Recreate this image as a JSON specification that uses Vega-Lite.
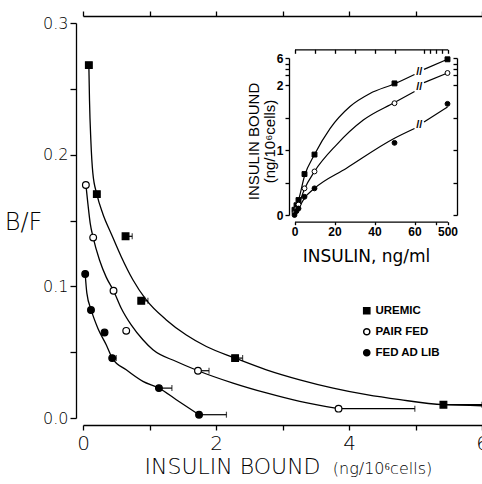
{
  "$schema": "https://vega.github.io/schema/vega-lite/v6.json",
  "width": 399,
  "height": 395,
  "autosize": {"type": "none"},
  "padding": {"left": 83, "top": 23, "right": 0, "bottom": 66},
  "background": "white",
  "config": {
    "view": {"stroke": null},
    "axis": {"grid": false, "domainColor": "black", "tickColor": "black", "labelColor": "black", "titleColor": "black", "domainWidth": 1.3, "tickWidth": 1.3, "labelFont": "DejaVu Sans", "titleFont": "DejaVu Sans"},
    "legend": {"labelFont": "Liberation Sans"}
  },
  "datasets": {
    "pts": [
      {"group": "UREMIC", "x": 0.088, "y": 0.268, "xerr": null},
      {"group": "UREMIC", "x": 0.208, "y": 0.170, "xerr": null},
      {"group": "UREMIC", "x": 0.64, "y": 0.138, "xerr": 0.74},
      {"group": "UREMIC", "x": 0.876, "y": 0.089, "xerr": 0.976},
      {"group": "UREMIC", "x": 2.287, "y": 0.0455, "xerr": 2.40},
      {"group": "UREMIC", "x": 5.42, "y": 0.0101, "xerr": 6.0},
      {"group": "PAIR FED", "x": 0.043, "y": 0.177, "xerr": null},
      {"group": "PAIR FED", "x": 0.153, "y": 0.137, "xerr": null},
      {"group": "PAIR FED", "x": 0.459, "y": 0.0967, "xerr": null},
      {"group": "PAIR FED", "x": 0.650, "y": 0.0662, "xerr": null},
      {"group": "PAIR FED", "x": 1.729, "y": 0.0359, "xerr": 1.895},
      {"group": "PAIR FED", "x": 3.843, "y": 0.0071, "xerr": 4.99},
      {"group": "FED AD LIB", "x": 0.033, "y": 0.1094, "xerr": null},
      {"group": "FED AD LIB", "x": 0.12, "y": 0.082, "xerr": null},
      {"group": "FED AD LIB", "x": 0.324, "y": 0.0649, "xerr": null},
      {"group": "FED AD LIB", "x": 0.439, "y": 0.0455, "xerr": 0.50},
      {"group": "FED AD LIB", "x": 1.142, "y": 0.0227, "xerr": 1.337},
      {"group": "FED AD LIB", "x": 1.745, "y": 0.0025, "xerr": 2.157}
    ],
    "curves": [
      {"group": "UREMIC", "x": 0.088, "y": 0.268},
      {"group": "UREMIC", "x": 0.098, "y": 0.241},
      {"group": "UREMIC", "x": 0.118, "y": 0.211},
      {"group": "UREMIC", "x": 0.148, "y": 0.186},
      {"group": "UREMIC", "x": 0.208, "y": 0.170},
      {"group": "UREMIC", "x": 0.299, "y": 0.155},
      {"group": "UREMIC", "x": 0.424, "y": 0.140},
      {"group": "UREMIC", "x": 0.575, "y": 0.1225},
      {"group": "UREMIC", "x": 0.750, "y": 0.105},
      {"group": "UREMIC", "x": 0.951, "y": 0.0897},
      {"group": "UREMIC", "x": 1.253, "y": 0.0745},
      {"group": "UREMIC", "x": 1.554, "y": 0.063},
      {"group": "UREMIC", "x": 1.855, "y": 0.0543},
      {"group": "UREMIC", "x": 2.287, "y": 0.0455},
      {"group": "UREMIC", "x": 2.758, "y": 0.0366},
      {"group": "UREMIC", "x": 3.26, "y": 0.029},
      {"group": "UREMIC", "x": 3.762, "y": 0.0227},
      {"group": "UREMIC", "x": 4.264, "y": 0.0177},
      {"group": "UREMIC", "x": 4.767, "y": 0.0139},
      {"group": "UREMIC", "x": 5.42, "y": 0.0101},
      {"group": "UREMIC", "x": 6.0, "y": 0.0093},
      {"group": "PAIR FED", "x": 0.043, "y": 0.1774},
      {"group": "PAIR FED", "x": 0.073, "y": 0.163},
      {"group": "PAIR FED", "x": 0.108, "y": 0.148},
      {"group": "PAIR FED", "x": 0.153, "y": 0.137},
      {"group": "PAIR FED", "x": 0.248, "y": 0.120},
      {"group": "PAIR FED", "x": 0.349, "y": 0.107},
      {"group": "PAIR FED", "x": 0.459, "y": 0.0967},
      {"group": "PAIR FED", "x": 0.575, "y": 0.0834},
      {"group": "PAIR FED", "x": 0.725, "y": 0.0707},
      {"group": "PAIR FED", "x": 0.901, "y": 0.0594},
      {"group": "PAIR FED", "x": 1.052, "y": 0.0518},
      {"group": "PAIR FED", "x": 1.403, "y": 0.0429},
      {"group": "PAIR FED", "x": 1.729, "y": 0.0359},
      {"group": "PAIR FED", "x": 2.256, "y": 0.0265},
      {"group": "PAIR FED", "x": 2.758, "y": 0.019},
      {"group": "PAIR FED", "x": 3.26, "y": 0.0126},
      {"group": "PAIR FED", "x": 3.843, "y": 0.0071},
      {"group": "FED AD LIB", "x": 0.033, "y": 0.1094},
      {"group": "FED AD LIB", "x": 0.058, "y": 0.0948},
      {"group": "FED AD LIB", "x": 0.123, "y": 0.0821},
      {"group": "FED AD LIB", "x": 0.223, "y": 0.0682},
      {"group": "FED AD LIB", "x": 0.349, "y": 0.0556},
      {"group": "FED AD LIB", "x": 0.439, "y": 0.0455},
      {"group": "FED AD LIB", "x": 0.650, "y": 0.0366},
      {"group": "FED AD LIB", "x": 0.901, "y": 0.0278},
      {"group": "FED AD LIB", "x": 1.142, "y": 0.0227},
      {"group": "FED AD LIB", "x": 1.403, "y": 0.0139},
      {"group": "FED AD LIB", "x": 1.745, "y": 0.0025}
    ],
    "inpts": [
      {"group": "UREMIC", "conc": 0, "bound": 0.08},
      {"group": "UREMIC", "conc": 1, "bound": 0.15},
      {"group": "UREMIC", "conc": 2, "bound": 0.23},
      {"group": "UREMIC", "conc": 5, "bound": 0.63},
      {"group": "UREMIC", "conc": 10, "bound": 0.93},
      {"group": "UREMIC", "conc": 50, "bound": 2.08},
      {"group": "UREMIC", "conc": 500, "bound": 5.77},
      {"group": "PAIR FED", "conc": 0, "bound": 0.03},
      {"group": "PAIR FED", "conc": 1, "bound": 0.09},
      {"group": "PAIR FED", "conc": 2, "bound": 0.16},
      {"group": "PAIR FED", "conc": 5, "bound": 0.41},
      {"group": "PAIR FED", "conc": 10, "bound": 0.67},
      {"group": "PAIR FED", "conc": 50, "bound": 1.72},
      {"group": "PAIR FED", "conc": 500, "bound": 3.36},
      {"group": "FED AD LIB", "conc": 0, "bound": 0.0},
      {"group": "FED AD LIB", "conc": 1, "bound": 0.06},
      {"group": "FED AD LIB", "conc": 2, "bound": 0.10},
      {"group": "FED AD LIB", "conc": 5, "bound": 0.28},
      {"group": "FED AD LIB", "conc": 10, "bound": 0.41},
      {"group": "FED AD LIB", "conc": 50, "bound": 1.11},
      {"group": "FED AD LIB", "conc": 500, "bound": 1.71}
    ],
    "incurves": [
      {"seg": "U1", "conc": 0, "bound": 0.05},
      {"seg": "U1", "conc": 1, "bound": 0.15},
      {"seg": "U1", "conc": 2, "bound": 0.23},
      {"seg": "U1", "conc": 5, "bound": 0.60},
      {"seg": "U1", "conc": 10, "bound": 0.93},
      {"seg": "U1", "conc": 17.75, "bound": 1.33},
      {"seg": "U1", "conc": 27.75, "bound": 1.67},
      {"seg": "U1", "conc": 37.75, "bound": 1.87},
      {"seg": "U1", "conc": 50, "bound": 2.06},
      {"seg": "U1", "conc": 60, "bound": 3.1},
      {"seg": "U2", "conc": 100, "bound": 4.0},
      {"seg": "U2", "conc": 500, "bound": 5.77},
      {"seg": "P1", "conc": 0, "bound": 0.02},
      {"seg": "P1", "conc": 1, "bound": 0.08},
      {"seg": "P1", "conc": 2, "bound": 0.15},
      {"seg": "P1", "conc": 5, "bound": 0.40},
      {"seg": "P1", "conc": 10, "bound": 0.67},
      {"seg": "P1", "conc": 21, "bound": 1.08},
      {"seg": "P1", "conc": 34.4, "bound": 1.46},
      {"seg": "P1", "conc": 50, "bound": 1.73},
      {"seg": "P1", "conc": 60, "bound": 1.90},
      {"seg": "P2", "conc": 100, "bound": 2.12},
      {"seg": "P2", "conc": 500, "bound": 3.36},
      {"seg": "F1", "conc": 0, "bound": 0.0},
      {"seg": "F1", "conc": 1, "bound": 0.05},
      {"seg": "F1", "conc": 2, "bound": 0.10},
      {"seg": "F1", "conc": 5, "bound": 0.26},
      {"seg": "F1", "conc": 10, "bound": 0.41},
      {"seg": "F1", "conc": 26, "bound": 0.72},
      {"seg": "F1", "conc": 50, "bound": 1.18},
      {"seg": "F1", "conc": 60, "bound": 1.33},
      {"seg": "F2", "conc": 100, "bound": 1.43},
      {"seg": "F2", "conc": 500, "bound": 1.66}
    ],
    "inbreaks": [
      {"seg": "U", "conc": 80, "bound": 3.55},
      {"seg": "P", "conc": 80, "bound": 1.97},
      {"seg": "F", "conc": 80, "bound": 1.38}
    ]
  },
  "layer": [
    {
      "layer": [
        {
          "data": {"name": "curves"},
          "mark": {"type": "line", "interpolate": "monotone", "color": "black", "strokeWidth": 1.3},
          "encoding": {
            "x": {"field": "x", "type": "quantitative", "scale": {"domain": [0, 6], "nice": false, "zero": false},
              "axis": {"orient": "bottom", "offset": 7, "values": [0, 1, 2, 3, 4, 5, 6], "labelExpr": "datum.value % 2 == 0 ? format(datum.value, 'd') : ''", "tickSize": 5, "labelPadding": 3, "labelFontSize": 20, "labelFontWeight": 200, "labelOverlap": false, "labelFlush": false,
                "title": "INSULIN  BOUND", "titleFontSize": 22, "titleFontWeight": 200, "titleX": 149, "titleY": 48, "titleAlign": "center", "titleBaseline": "alphabetic", "titleAnchor": null}},
            "y": {"field": "y", "type": "quantitative", "scale": {"domain": [0, 0.3], "nice": false, "zero": false},
              "axis": {"orient": "left", "offset": 7, "values": [0, 0.05, 0.1, 0.15, 0.2, 0.25, 0.3], "labelExpr": "round(datum.value * 20) % 2 == 0 ? format(datum.value, '.1f') : ''", "tickSize": 6, "labelPadding": 2, "labelFontSize": 16, "labelFontWeight": 200,
                "title": "B/F", "titleAngle": 0, "titleFontSize": 24, "titleFontWeight": 200, "titleX": -53, "titleY": 199, "titleAlign": "center", "titleBaseline": "middle"}},
            "detail": {"field": "group"}
          }
        },
        {
          "data": {"name": "pts"},
          "transform": [{"filter": "datum.xerr != null"}],
          "mark": {"type": "rule", "color": "black", "strokeWidth": 1.2},
          "encoding": {
            "x": {"field": "x", "type": "quantitative"},
            "x2": {"field": "xerr"},
            "y": {"field": "y", "type": "quantitative"}
          }
        },
        {
          "data": {"name": "pts"},
          "transform": [{"filter": "datum.xerr != null"}],
          "mark": {"type": "tick", "orient": "vertical", "color": "black", "thickness": 1.2, "size": 6},
          "encoding": {
            "x": {"field": "xerr", "type": "quantitative"},
            "y": {"field": "y", "type": "quantitative"}
          }
        },
        {
          "data": {"name": "pts"},
          "mark": {"type": "point", "filled": true, "stroke": "black", "strokeWidth": 1.2, "opacity": 1, "size": 45},
          "encoding": {
            "x": {"field": "x", "type": "quantitative"},
            "y": {"field": "y", "type": "quantitative"},
            "shape": {"field": "group", "type": "nominal", "scale": {"domain": ["UREMIC", "PAIR FED", "FED AD LIB"], "range": ["square", "circle", "circle"]},
              "legend": {"orient": "none", "legendX": 278, "legendY": 282, "title": null, "padding": 0, "symbolSize": 38, "labelFontSize": 11.5, "labelFontWeight": "bold", "labelColor": "black", "labelOffset": 3, "rowPadding": 8,
                "encode": {"symbols": {"update": {"stroke": {"value": "black"}, "strokeWidth": {"value": 1.2}}}}}},
            "fill": {"field": "group", "type": "nominal", "scale": {"domain": ["UREMIC", "PAIR FED", "FED AD LIB"], "range": ["black", "white", "black"]}}
          }
        }
      ]
    },
    {
      "data": {"name": "pts"},
      "mark": {"type": "rule", "opacity": 0},
      "encoding": {
        "x": {"field": "x", "type": "quantitative", "scale": {"domain": [0, 6], "nice": false, "zero": false},
          "axis": {"orient": "top", "offset": 7, "values": [0, 1, 2, 3, 4, 5, 6], "labels": false, "tickSize": 5,
            "title": "(ng/10⁶cells)", "titleFontSize": 16, "titleFontWeight": 200, "titleX": 299, "titleY": 457, "titleAlign": "center", "titleBaseline": "alphabetic", "titleAnchor": null}}
      }
    },
    {
      "layer": [
        {
          "data": {"name": "incurves"},
          "mark": {"type": "line", "interpolate": "monotone", "color": "black", "strokeWidth": 1.2},
          "encoding": {
            "x": {"field": "conc", "type": "quantitative", "scale": {"domain": [0, 60, 100, 500], "range": [211.5, 331.5, 341, 364.5], "nice": false, "zero": false},
              "axis": {"orient": "bottom", "offset": -196.3, "values": [0, 10, 20, 30, 40, 50, 60, 200, 300, 400, 500], "labelExpr": "indexof([0,20,40,60,500], datum.value) >= 0 ? format(datum.value, 'd') : ''", "tickSize": 3, "labelPadding": 2, "labelFontSize": 12, "labelFontWeight": "bold", "labelFont": "Liberation Sans", "labelOverlap": false, "labelFlush": false,
                "title": "INSULIN, ng/ml", "titleFontSize": 17, "titleFontWeight": "normal", "titleX": 283, "titleY": 40, "titleAlign": "center", "titleBaseline": "alphabetic", "titleAnchor": null}},
            "y": {"field": "bound", "type": "quantitative", "scale": {"domain": [0, 2, 2.3, 6], "range": [192, 62, 56, 35], "nice": false, "zero": false},
              "axis": {"orient": "left", "offset": -206, "values": [0, 0.5, 1, 1.5, 2, 3, 4, 5, 6], "labelExpr": "indexof([0,1,2,6], datum.value) >= 0 ? format(datum.value, 'd') : ''", "tickSize": 4, "labelPadding": 2, "labelFontSize": 12, "labelFontWeight": "bold", "labelFont": "Liberation Sans", "labelOverlap": false, "labelFlush": false,
                "title": ["INSULIN BOUND", "(ng/10⁶cells)"], "titleFont": "Liberation Sans", "titleFontSize": 15, "titleFontWeight": "normal", "titleAngle": -90, "titleX": -36, "titleY": 118, "titleAlign": "center", "titleBaseline": "middle", "titleLineHeight": 16, "titleAnchor": null}},
            "detail": {"field": "seg"}
          }
        },
        {
          "data": {"name": "inbreaks"},
          "mark": {"type": "text", "text": "//", "font": "Liberation Sans", "fontSize": 11, "fontWeight": "bold", "color": "black", "align": "center", "baseline": "middle"},
          "encoding": {
            "x": {"field": "conc", "type": "quantitative"},
            "y": {"field": "bound", "type": "quantitative"}
          }
        },
        {
          "data": {"name": "inpts"},
          "mark": {"type": "point", "filled": true, "stroke": "black", "strokeWidth": 1, "opacity": 1, "size": 24},
          "encoding": {
            "x": {"field": "conc", "type": "quantitative"},
            "y": {"field": "bound", "type": "quantitative"},
            "shape": {"field": "group", "type": "nominal"},
            "fill": {"field": "group", "type": "nominal"}
          }
        }
      ]
    },
    {
      "data": {"name": "inpts"},
      "mark": {"type": "point", "opacity": 0},
      "encoding": {
        "x": {"field": "conc", "type": "quantitative", "scale": {"domain": [0, 60, 100, 500], "range": [211.5, 331.5, 341, 364.5], "nice": false, "zero": false},
          "axis": {"orient": "top", "offset": -26.3, "values": [0, 10, 20, 30, 40, 50, 100, 200, 300, 400, 500], "labels": false, "tickSize": -4, "title": null}},
        "y": {"field": "bound", "type": "quantitative", "scale": {"domain": [0, 2, 2.3, 6], "range": [192, 62, 56, 35], "nice": false, "zero": false},
          "axis": {"orient": "right", "offset": -25, "values": [0, 0.5, 1, 1.5, 2, 3, 4, 5, 6], "labels": false, "tickSize": -4, "title": null}}
      }
    }
  ],
  "resolve": {"scale": {"x": "independent", "y": "independent"}, "axis": {"x": "independent", "y": "independent"}}
}
